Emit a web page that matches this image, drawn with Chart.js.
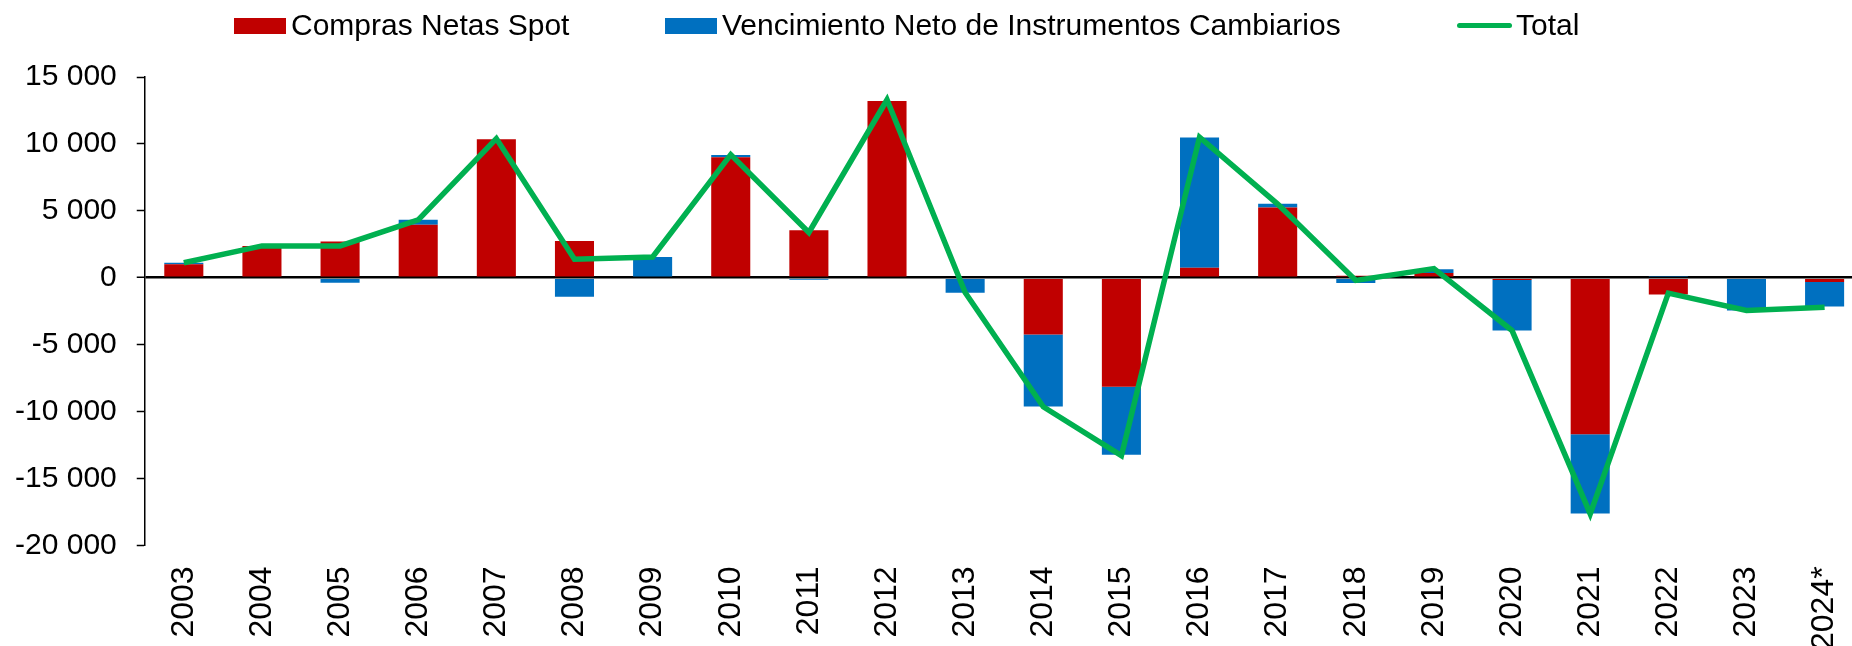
<!DOCTYPE html>
<html>
<head>
<meta charset="utf-8">
<script src="https://cdn.jsdelivr.net/npm/chart.js@4/dist/chart.umd.min.js"></script>
<style>
  html, body { margin: 0; padding: 0; background: #fff; overflow: hidden; }
  #wrap { position: relative; width: 1852px; height: 646px; overflow: hidden; }
  canvas { position: absolute; left: 0; top: 0; }
  .lg { position: absolute; font-family: "Liberation Sans", Arial, sans-serif; font-size: 30px; line-height: 30px; color: #000; white-space: nowrap; }
  .sw { position: absolute; }
</style>
</head>
<body>
<div id="wrap">
  <canvas id="c" width="1884" height="646"></canvas>
  <div class="sw" style="left:234px;top:18px;width:52px;height:16px;background:#C00000"></div>
  <div class="lg" style="left:291px;top:10px">Compras Netas Spot</div>
  <div class="sw" style="left:665px;top:18px;width:52px;height:16px;background:#0070C0"></div>
  <div class="lg" style="left:722px;top:10px">Vencimiento Neto de Instrumentos Cambiarios</div>
  <div class="sw" style="left:1457px;top:23px;width:55px;height:5px;border-radius:3px;background:#00B050"></div>
  <div class="lg" style="left:1516px;top:10px">Total</div>
</div>
<script>
const categories = ['2003','2004','2005','2006','2007','2008','2009','2010','2011','2012','2013','2014','2015','2016','2017','2018','2019','2020','2021','2022','2023','2024*'];
const comprasNetasSpot = [1000, 2380, 2700, 3950, 10350, 2750, 0, 9000, 3550, 13200, 0, -4250, -8150, 750, 5250, 150, 350, -170, -11690, -1250, 0, -320];
const vencimientoNeto = [120, 0, -370, 375, 0, -1420, 1550, 175, -150, 0, -1120, -5370, -5070, 9720, 270, -400, 280, -3780, -5930, 60, -2450, -1830];
const total = [1120, 2380, 2380, 4325, 10400, 1380, 1550, 9200, 3380, 13300, -1100, -9640, -13290, 10500, 5500, -200, 680, -3950, -17650, -1150, -2450, -2200];
const yTickValues = [15000, 10000, 5000, 0, -5000, -10000, -15000, -20000];
const yTickLabels = ['15 000', '10 000', '5 000', '0', '-5 000', '-10 000', '-15 000', '-20 000'];

Chart.defaults.font.family = '"Liberation Sans", Arial, sans-serif';
Chart.defaults.color = '#000';

new Chart(document.getElementById('c'), {
  type: 'bar',
  data: {
    labels: categories,
    datasets: [
      { type: 'line', label: 'Total', data: total, borderColor: '#00B050', backgroundColor: '#00B050',
        borderWidth: 5.5, pointRadius: 0, tension: 0, stack: 'line', order: 0 },
      { label: 'Compras Netas Spot', data: comprasNetasSpot, backgroundColor: '#C00000', stack: 'bars', order: 1,
        barPercentage: 0.5, categoryPercentage: 1 },
      { label: 'Vencimiento Neto de Instrumentos Cambiarios', data: vencimientoNeto, backgroundColor: '#0070C0', stack: 'bars', order: 1,
        barPercentage: 0.5, categoryPercentage: 1 }
    ]
  },
  options: {
    responsive: false,
    animation: false,
    devicePixelRatio: 1,
    layout: { padding: { top: 77, left: -5, right: 0, bottom: -25 } },
    plugins: { legend: { display: false }, tooltip: { enabled: false } },
    scales: {
      x: {
        stacked: true,
        grid: { display: false, drawTicks: false },
        border: { display: false },
        ticks: { autoSkip: false, maxRotation: 90, minRotation: 90, padding: 21, font: { size: 32 }, color: '#000' }
      },
      y: {
        stacked: true,
        min: -20000, max: 15000,
        border: { display: true, color: '#000', width: 1.5 },
        grid: {
          color: (ctx) => (ctx.tick && ctx.tick.value === 0 ? '#000' : 'rgba(0,0,0,0)'),
          lineWidth: (ctx) => (ctx.tick && ctx.tick.value === 0 ? 2.5 : 1),
          tickColor: '#000', tickWidth: 1.5, tickLength: 8, drawTicks: true
        },
        afterBuildTicks: (axis) => { axis.ticks = yTickValues.map(v => ({ value: v })); },
        ticks: {
          padding: 20, font: { size: 30 }, color: '#000',
          callback: (v) => { const i = yTickValues.indexOf(v); return i >= 0 ? yTickLabels[i] : ''; }
        }
      }
    }
  }
});
</script>
</body>
</html>
